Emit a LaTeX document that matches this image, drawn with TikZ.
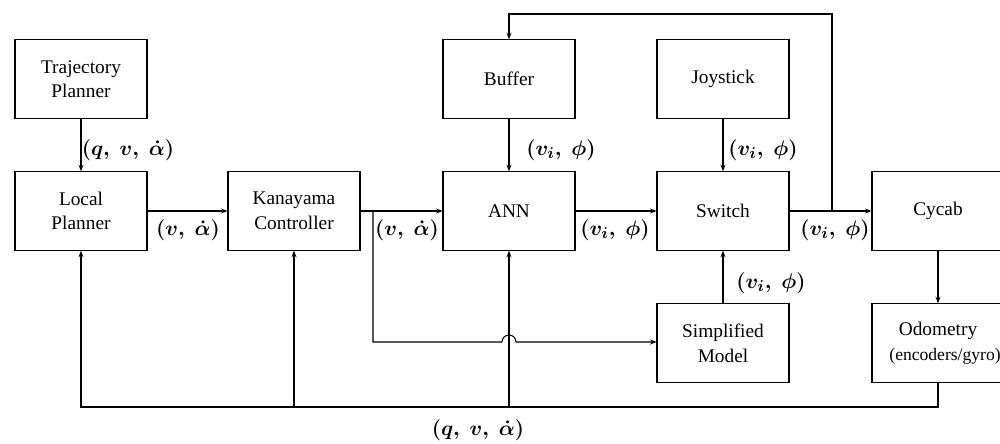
\documentclass[tikz,border=0pt]{standalone}
\usepackage{amsmath,amssymb}
\usepackage{fontspec}
\setmainfont{Liberation Serif}
\usetikzlibrary{arrows.meta,positioning}

\begin{document}
\begin{tikzpicture}[x=0.02cm,y=-0.02cm]
\tikzset{
  blockbox/.style={rectangle,draw=black,line width=0.6pt,minimum width=2.64cm,minimum height=1.57cm,inner sep=1pt,align=center,font=\fontsize{11}{14}\selectfont},
  graphedge/.style={draw=black,line width=0.6pt,line join=miter},
  signal/.style={graphedge,-{Stealth[length=1.3mm,width=1.0mm]}},
  siglabel/.style={inner sep=0pt,font=\fontsize{13}{15}\selectfont\boldmath}
}
\clip (0,0) rectangle (1000,443);
\node[blockbox] (n_traj) at (81,79) {Trajectory\\Planner};
\node[blockbox] (n_local) at (81,211) {Local\\Planner};
\node[blockbox] (n_kana) at (294,211) {Kanayama\\Controller};
\node[blockbox] (n_buffer) at (509,79) {Buffer};
\node[blockbox] (n_ann) at (509,211) {ANN};
\node[blockbox] (n_joy) at (723,79) {Joystick};
\node[blockbox] (n_switch) at (723,211) {Switch};
\node[blockbox] (n_simp) at (723,343) {Simplified\\Model};
\node[blockbox] (n_cycab) at (938,211) {Cycab};
\node[blockbox] (n_odom) at (938,343) {Odometry\\{\fontsize{10}{12}\selectfont\hspace*{8pt}(encoders/gyro)}};
\coordinate (c_out) at (832,211);
\coordinate (c_top) at (832,14);
\coordinate (c_kana) at (373,211);
\coordinate (c_hop) at (502,342);
\coordinate (c_fb) at (509,407);
\draw[signal] (n_traj) -- (n_local);
\draw[signal] (n_local) -- (n_kana);
\draw[signal] (n_kana) -- (n_ann);
\draw[signal] (n_ann) -- (n_switch);
\draw[signal] (n_switch) -- (n_cycab);
\draw[signal] (n_buffer) -- (n_ann);
\draw[signal] (n_joy) -- (n_switch);
\draw[signal] (n_simp) -- (n_switch);
\draw[signal] (n_cycab) -- (n_odom);
\draw[signal] (c_out) -- (c_top) -| (n_buffer);
\draw[signal] (c_kana) |- (c_hop) arc (180:360:7) -- (n_simp.west |- c_hop);
\draw[graphedge] (n_odom) |- (c_fb);
\draw[signal] (c_fb) -- (n_ann);
\draw[signal] (c_fb) -| (n_kana);
\draw[signal] (c_fb) -| (n_local);
\node[siglabel] (l_traj) at (128,150) {$(q,\ v,\ \dot{\alpha})$};
\node[siglabel] (l_local) at (188,230) {$(v,\ \dot{\alpha})$};
\node[siglabel] (l_kana) at (407,230) {$(v,\ \dot{\alpha})$};
\node[siglabel] (l_ann) at (615,230) {$(v_{i},\ \phi)$};
\node[siglabel] (l_switch) at (835,230) {$(v_{i},\ \phi)$};
\node[siglabel] (l_buffer) at (561,150) {$(v_{i},\ \phi)$};
\node[siglabel] (l_joy) at (763,150) {$(v_{i},\ \phi)$};
\node[siglabel] (l_simp) at (771,283) {$(v_{i},\ \phi)$};
\node[siglabel] (l_fb) at (478,430) {$(q,\ v,\ \dot{\alpha})$};
\end{tikzpicture}
\end{document}
